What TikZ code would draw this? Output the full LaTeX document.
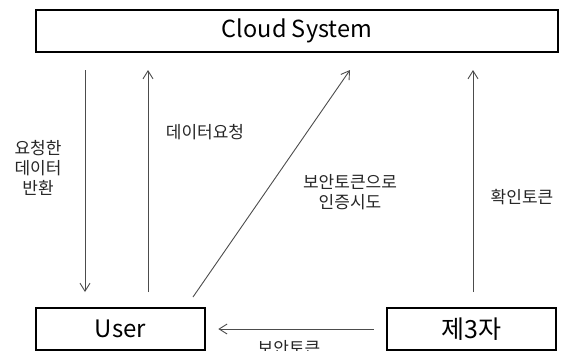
\documentclass[tikz,border=0pt]{standalone}
\usepackage{fontspec}
\setmainfont{Noto Sans CJK KR}
\usetikzlibrary{arrows.meta}

\tikzset{
	box/.style={draw, line width=2.6pt, inner sep=0pt, minimum height=42pt},
	arr/.style={-{Straight Barb[length=8pt,width=10pt]}, line width=0.9pt, color=black!70},
	lbl/.style={align=center, inner sep=0pt, text=black!85, font=\fontsize{17}{20}\selectfont}
}

\begin{document}
\begin{tikzpicture}[x=1pt, y=-1pt]
		\useasboundingbox (0, 0) rectangle (563, 351);
	
		\node[box, minimum width=522pt, font=\fontsize{23.5}{26}\selectfont] (cloud) at (297, 31) {Cloud System};
		\node[box, minimum width=169pt, font=\fontsize{24}{30}\selectfont] (user) at (120.5, 329) {User};
		\node[box, minimum width=169pt, font=\fontsize{25}{30}\selectfont] (third) at (471.5, 329) {제3자};
		
		% end points of the arrows
		\coordinate (ret-top) at (85, 70);
		\coordinate (ret-bot) at (85, 292);
		\coordinate (req-bot) at (148, 292);
		\coordinate (req-top) at (148, 70);
		\coordinate (auth-bot) at (193, 297);
		\coordinate (auth-top) at (350, 70);
		\coordinate (conf-bot) at (473, 292);
		\coordinate (conf-top) at (473, 70);
		
		\draw[arr] (ret-top) -- (ret-bot);
		\draw[arr] (req-bot) -- (req-top);
		\draw[arr] (auth-bot) -- (auth-top);
		\draw[arr] (conf-bot) -- (conf-top);
		\draw[arr, shorten <=12pt, shorten >=12pt] (third.west) -- (user.east);
		
		\node[lbl] (ret) at (38, 168) {요청한\\데이터\\반환};
		\node[lbl] (req) at (205, 132) {데이터요청};
		\node[lbl] (auth) at (350, 192) {보안토큰으로\\인증시도};
		\node[lbl] (conf) at (522, 197) {확인토큰};
		\node[lbl] (token) at (289, 348) {보안토큰};
\end{tikzpicture}
\end{document}
